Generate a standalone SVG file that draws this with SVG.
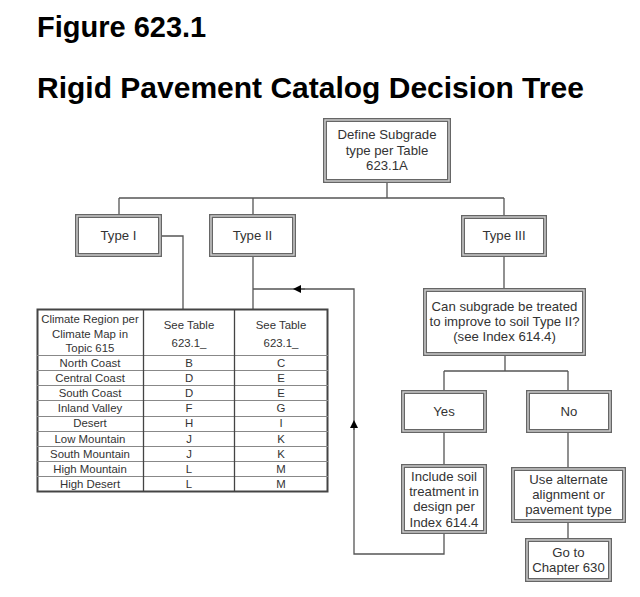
<svg xmlns="http://www.w3.org/2000/svg" width="640" height="597" viewBox="0 0 640 597">
<style>
.title{font-family:"Liberation Sans",Arial,sans-serif;font-weight:bold;fill:#000}
.bo{fill:#fff;stroke:#666;stroke-width:4}
.bi{fill:none;stroke:#d0d0d0;stroke-width:1.4}
.t{font-family:"Liberation Sans",Arial,sans-serif;font-size:13.2px;fill:#333;text-anchor:middle}
.tt{font-family:"Liberation Sans",Arial,sans-serif;font-size:11.4px;fill:#333;text-anchor:middle}
.c{fill:none;stroke:#555;stroke-width:1.3}
.g{stroke:#888;stroke-width:1}
</style>
<defs>
<marker id="ah" viewBox="0 0 10 10" refX="5" refY="5" markerWidth="11" markerHeight="8" markerUnits="userSpaceOnUse" orient="auto">
<path d="M0,0 L10,5 L0,10 z" fill="#000"/>
</marker>
</defs>
<rect width="640" height="597" fill="#fff"/>
<text class="title" x="37" y="37" font-size="29">Figure 623.1</text>
<text class="title" x="37" y="98" font-size="30">Rigid Pavement Catalog Decision Tree</text>

<g id="connectors">
<path class="c" d="M387,183 V198 M119,198 H504 M119,198 V214 M253,198 V214 M504,198 V215"/>
<path class="c" d="M162,236 H183 V309"/>
<path class="c" d="M253,257 V309"/>
<path class="c" d="M504,257 V288"/>
<path class="c" d="M505,356 V371 M444,371 H568 M444,371 V390 M568,371 V390"/>
<path class="c" d="M444,433 V464 M568,433 V467 M568,523 V538"/>
<path class="c" d="M444,534 V554 H354 V289 H253"/>
<path class="c" d="M354,430 V424" marker-end="url(#ah)"/>
<path class="c" d="M305,289 H297" marker-end="url(#ah)"/>
</g>

<g id="n-define">
<rect class="bo" x="325" y="120" width="124" height="61"/><rect class="bi" x="325" y="120" width="124" height="61"/>
<text class="t" x="387" y="139">Define Subgrade</text>
<text class="t" x="387" y="155">type per Table</text>
<text class="t" x="387" y="170">623.1A</text>
</g>
<g id="n-type1">
<rect class="bo" x="77" y="216" width="83" height="39"/><rect class="bi" x="77" y="216" width="83" height="39"/>
<text class="t" x="118.5" y="240">Type I</text>
</g>
<g id="n-type2">
<rect class="bo" x="211" y="216" width="83" height="39"/><rect class="bi" x="211" y="216" width="83" height="39"/>
<text class="t" x="252.5" y="240">Type II</text>
</g>
<g id="n-type3">
<rect class="bo" x="463" y="217" width="82" height="38"/><rect class="bi" x="463" y="217" width="82" height="38"/>
<text class="t" x="504" y="240">Type III</text>
</g>
<g id="n-question">
<rect class="bo" x="425" y="290" width="159" height="64"/><rect class="bi" x="425" y="290" width="159" height="64"/>
<text class="t" x="504.5" y="311">Can subgrade be treated</text>
<text class="t" x="504.5" y="326">to improve to soil Type II?</text>
<text class="t" x="504.5" y="341">(see Index 614.4)</text>
</g>
<g id="n-yes">
<rect class="bo" x="403" y="392" width="82" height="39"/><rect class="bi" x="403" y="392" width="82" height="39"/>
<text class="t" x="444" y="416">Yes</text>
</g>
<g id="n-no">
<rect class="bo" x="528" y="392" width="82" height="39"/><rect class="bi" x="528" y="392" width="82" height="39"/>
<text class="t" x="569" y="416">No</text>
</g>
<g id="n-include">
<rect class="bo" x="403" y="466" width="82" height="66"/><rect class="bi" x="403" y="466" width="82" height="66"/>
<text class="t" x="444" y="481">Include soil</text>
<text class="t" x="444" y="496">treatment in</text>
<text class="t" x="444" y="511">design per</text>
<text class="t" x="444" y="527">Index 614.4</text>
</g>
<g id="n-alternate">
<rect class="bo" x="513" y="469" width="111" height="52"/><rect class="bi" x="513" y="469" width="111" height="52"/>
<text class="t" x="568.5" y="484">Use alternate</text>
<text class="t" x="568.5" y="499">alignment or</text>
<text class="t" x="568.5" y="514">pavement type</text>
</g>
<g id="n-goto">
<rect class="bo" x="527" y="540" width="83" height="40"/><rect class="bi" x="527" y="540" width="83" height="40"/>
<text class="t" x="568.5" y="557">Go to</text>
<text class="t" x="568.5" y="572">Chapter 630</text>
</g>

<g id="n-table">
<rect x="37.5" y="309.5" width="290" height="182" fill="#fff" stroke="#444" stroke-width="2"/>
<path class="g" d="M37,355.5 H328 M37,370.5 H328 M37,385.5 H328 M37,400.5 H328 M37,416.5 H328 M37,431.5 H328 M37,446.5 H328 M37,461.5 H328 M37,476.5 H328"/>
<path d="M143.5,309 V492 M234.5,309 V492" stroke="#444" stroke-width="1.3"/>
<text class="tt" x="90" y="323">Climate Region per</text>
<text class="tt" x="90" y="338">Climate Map in</text>
<text class="tt" x="90" y="352">Topic 615</text>
<text class="tt" x="189" y="329">See Table</text>
<text class="tt" x="189" y="347">623.1_</text>
<text class="tt" x="281" y="329">See Table</text>
<text class="tt" x="281" y="347">623.1_</text>
<g>
<text class="tt" x="90" y="367">North Coast</text><text class="tt" x="189" y="367">B</text><text class="tt" x="281" y="367">C</text>
<text class="tt" x="90" y="382">Central Coast</text><text class="tt" x="189" y="382">D</text><text class="tt" x="281" y="382">E</text>
<text class="tt" x="90" y="397">South Coast</text><text class="tt" x="189" y="397">D</text><text class="tt" x="281" y="397">E</text>
<text class="tt" x="90" y="412">Inland Valley</text><text class="tt" x="189" y="412">F</text><text class="tt" x="281" y="412">G</text>
<text class="tt" x="90" y="427">Desert</text><text class="tt" x="189" y="427">H</text><text class="tt" x="281" y="427">I</text>
<text class="tt" x="90" y="443">Low Mountain</text><text class="tt" x="189" y="443">J</text><text class="tt" x="281" y="443">K</text>
<text class="tt" x="90" y="458">South Mountain</text><text class="tt" x="189" y="458">J</text><text class="tt" x="281" y="458">K</text>
<text class="tt" x="90" y="473">High Mountain</text><text class="tt" x="189" y="473">L</text><text class="tt" x="281" y="473">M</text>
<text class="tt" x="90" y="488">High Desert</text><text class="tt" x="189" y="488">L</text><text class="tt" x="281" y="488">M</text>
</g>
</g>
</svg>
